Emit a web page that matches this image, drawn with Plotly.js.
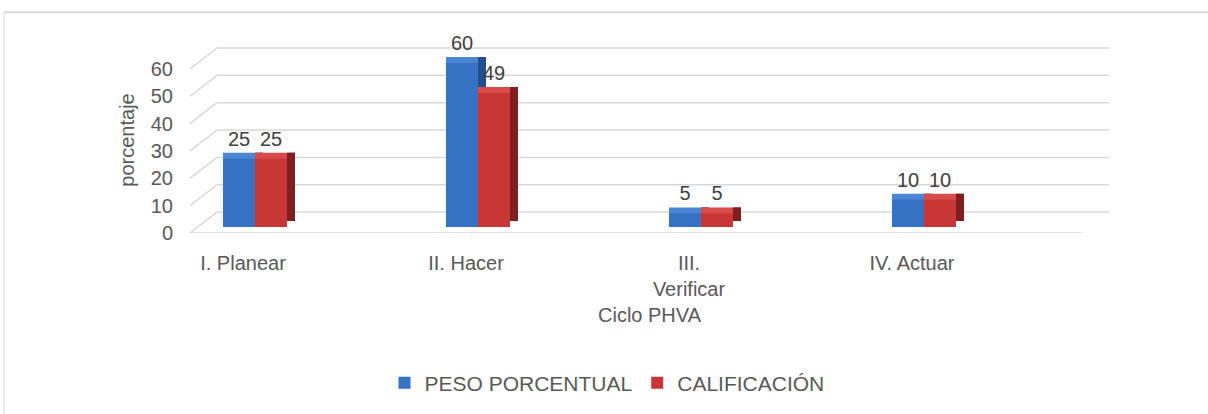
<!DOCTYPE html>
<html>
<head>
<meta charset="utf-8">
<script src="https://cdn.plot.ly/plotly-3.0.1.min.js"></script>
<style>html,body{margin:0;padding:0;background:#fff;}#chart{width:1208px;height:414px;}</style>
</head>
<body>
<div id="chart"></div>
<script>
// ---- data ----
const categories = ["I. Planear", "II. Hacer", "III. Verificar", "IV. Actuar"];
const tickLabels = ["I. Planear", "II. Hacer", "III.<br>Verificar", "IV. Actuar"];
const pesoPorcentual = [25, 60, 5, 10];
const calificacion = [25, 49, 5, 10];
const yTicks = [0, 10, 20, 30, 40, 50, 60];
const seriesNames = ["PESO PORCENTUAL", "CALIFICACIÓN"];

// ---- geometry / style ----
const W = 1208, H = 414;
const M = {l: 190, r: 99, t: 47, b: 180};
const plotW = W - M.l - M.r, plotH = H - M.t - M.b;
const yMax = 68;
const pxPerUnit = plotH / yMax;
const catPx = 223;
const xRange = [-53 / catPx, (plotW - 53) / catPx];
const barW = 32 / catPx;
const shift = 12 / catPx;
const depthX = 8 / catPx;
const depthY = 6 / pxPerUnit;
const frontBase = 6 / pxPerUnit;
const gridDepthX = 27 / plotW;
const gridDepthY = 21 / pxPerUnit;
const font = '"Liberation Sans", Arial, sans-serif';
const txt = '#595959';

const frontColors = ['#3672c3', '#c93636'];
const topColors = ['#4a86d4', '#d94a4a'];
const sideColors = ['#22508c', '#801f1f'];
const series = [pesoPorcentual, calificacion];
const offsets = [shift - barW, shift];

const traces = [];
// depth: top face then side face, per series
series.forEach((vals, i) => {
  traces.push({
    type: 'bar', x: categories, y: vals, base: frontBase + depthY,
    offset: offsets[i], width: barW + depthX,
    marker: {color: topColors[i]}, showlegend: false, hoverinfo: 'skip'
  });
  traces.push({
    type: 'bar', x: categories, y: vals, base: frontBase + depthY,
    offset: offsets[i] + barW, width: depthX,
    marker: {color: sideColors[i]}, showlegend: false, hoverinfo: 'skip'
  });
});
// front faces
series.forEach((vals, i) => {
  traces.push({
    type: 'bar', name: seriesNames[i], x: categories, y: vals, base: frontBase,
    offset: offsets[i], width: barW,
    marker: {color: frontColors[i]}
  });
});
// value labels
series.forEach((vals, i) => {
  traces.push({
    type: 'bar', x: categories, y: vals, base: frontBase + depthY,
    offset: offsets[i], width: barW,
    marker: {color: 'rgba(0,0,0,0)'},
    text: vals.map(String), textposition: 'outside', cliponaxis: false,
    textfont: {family: font, size: 20, color: '#404040'},
    showlegend: false, hoverinfo: 'skip'
  });
});

const gridColor = '#d9d9d9';
const shapes = [];
yTicks.forEach(v => {
  shapes.push({type: 'line', layer: 'below', xref: 'paper', yref: 'y',
    x0: 0, y0: v, x1: gridDepthX, y1: v + gridDepthY, line: {color: gridColor, width: 1.5}});
  shapes.push({type: 'line', layer: 'below', xref: 'paper', yref: 'y',
    x0: gridDepthX, y0: v + gridDepthY, x1: 1, y1: v + gridDepthY, line: {color: gridColor, width: 1.5}});
});
shapes.push({type: 'line', layer: 'below', xref: 'paper', yref: 'y',
  x0: 0, y0: 0, x1: 1 - gridDepthX, y1: 0, line: {color: gridColor, width: 1.5}});
// chart border
const bx = (4 - M.l) / plotW, by = (H - M.b - 12) / plotH;
shapes.push({type: 'line', xref: 'paper', yref: 'paper', x0: bx, y0: by, x1: (W + 20 - M.l) / plotW, y1: by, line: {color: '#d9d9d9', width: 2}});
shapes.push({type: 'line', xref: 'paper', yref: 'paper', x0: bx, y0: by, x1: bx, y1: -(M.b + 20) / plotH, line: {color: '#d9d9d9', width: 1}});

const layout = {
  width: W, height: H,
  margin: M,
  paper_bgcolor: '#ffffff', plot_bgcolor: 'rgba(0,0,0,0)',
  font: {family: font, size: 20, color: txt},
  barmode: 'overlay',
  showlegend: true,
  legend: {orientation: 'h', x: (607 - M.l) / plotW, xanchor: 'center',
    y: (H - M.b - 383) / plotH, yanchor: 'middle',
    font: {family: font, size: 21, color: txt}, traceorder: 'normal'},
  xaxis: {type: 'category', range: xRange, tickvals: categories, ticktext: tickLabels,
    showgrid: false, zeroline: false, showline: false,
    ticks: 'outside', ticklen: 12, tickcolor: 'rgba(0,0,0,0)',
    tickfont: {family: font, size: 20, color: txt}, automargin: false,
    title: {text: 'Ciclo PHVA', font: {family: font, size: 20, color: txt}, standoff: 8}},
  yaxis: {range: [0, yMax], tickvals: yTicks, showgrid: false, zeroline: false, showline: false,
    ticks: 'outside', ticklen: 12, tickcolor: 'rgba(0,0,0,0)',
    tickfont: {family: font, size: 20, color: txt}, automargin: false,
    title: {text: 'porcentaje', font: {family: font, size: 20, color: txt}, standoff: 10}},
  shapes: shapes
};

Plotly.newPlot('chart', traces, layout, {displayModeBar: false, staticPlot: true});
</script>
</body>
</html>
